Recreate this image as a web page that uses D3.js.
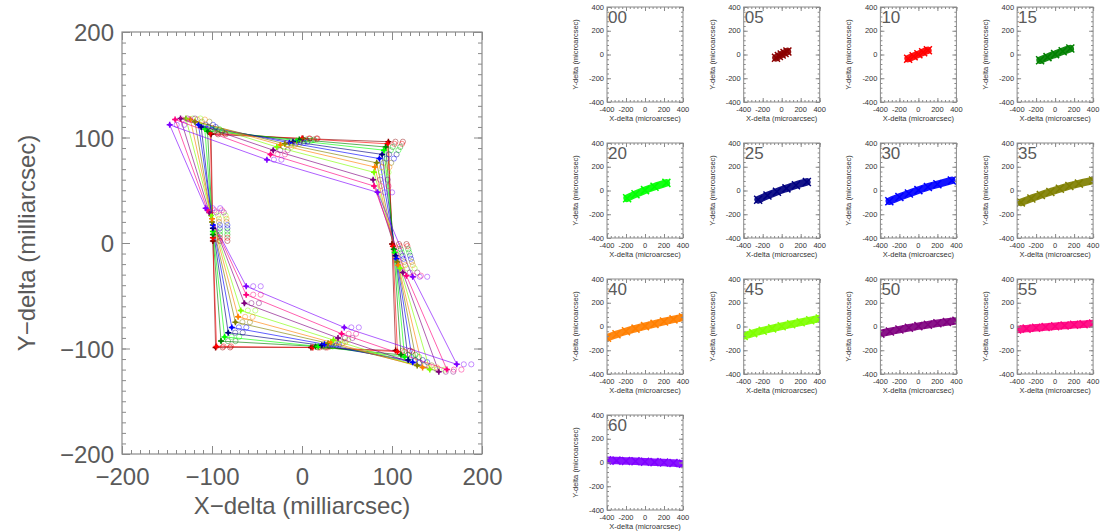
<!DOCTYPE html>
<html><head><meta charset="utf-8">
<script src="https://cdn.jsdelivr.net/npm/d3@7"></script>
<style>body{margin:0;background:#fff}svg{display:block}</style>
</head><body>
<svg id="c" width="1101" height="531"></svg>
<script>
// ---------- data ----------
const seriesNames  = ["05","10","15","20","25","30","35","40","45","50","55","60"];
const seriesColors = ["#8b0000","#ff0000","#008000","#00ff00","#00007f","#0000ff","#7f7f00","#ff7f00","#7fff00","#7f007f","#ff007f","#7f00ff"];

// main plot: field points (milliarcsec) per series, 8 grid positions
const posTL = [[-101,103],[-102,104],[-105,106],[-108,108],[-112,110],[-115,112],[-119,115],[-124,117],[-129,118],[-135,118],[-141,117],[-147,112]];
const posTM = [[1,99],[0,99],[-3,98],[-6,97],[-10,96],[-14,95],[-19,94],[-24,93],[-28,91],[-32,88],[-35,84],[-39,79]];
const posTR = [[96,96],[95,94],[93,91],[91,88],[89,84],[86,80],[83,76],[81,72],[80,67],[79,60],[80,54],[84,48]];
const posRM = [[100,-1],[101,-3],[102,-6],[103,-9],[104,-12],[105,-15],[106,-18],[107,-21],[109,-24],[112,-28],[116,-31],[123,-32]];
const posBR = [[104,-102],[106,-103],[110,-106],[114,-108],[118,-111],[123,-113],[128,-116],[134,-118],[142,-120],[152,-122],[161,-120],[172,-115]];
const posBM = [[10,-99],[12,-99],[15,-98],[18,-98],[22,-97],[25,-96],[29,-95],[32,-94],[35,-92],[40,-90],[44,-86],[47,-80]];
const posBL = [[-96,-99],[-95,-98],[-90,-93],[-86,-89],[-82,-85],[-78,-80],[-74,-75],[-71,-70],[-68,-64],[-64,-57],[-62,-49],[-62,-41]];
const posLM = [[-99,2],[-99,5],[-99,8],[-99,11],[-99,14],[-99,17],[-100,20],[-100,23],[-101,26],[-103,29],[-105,31],[-107,33]];

const mainTicks = [-200,-100,0,100,200];

// small panels: displacement tracks (microarcsec)
const panelNames = ["00","05","10","15","20","25","30","35","40","45","50","55","60"];
const track00 = [];
const track05 = [[-60,-28],[-30,-13],[0,0],[30,13],[60,26]];
const track10 = [[-108,-35],[-50,-15],[0,2],[50,19],[100,35]];
const track15 = [[-158,-48],[-80,-22],[0,3],[80,28],[160,50]];
const track20 = [[-188,-65],[-100,-31],[0,3],[100,32],[225,64]];
const track25 = [[-248,-78],[-150,-42],[-50,-10],[50,18],[150,45],[265,72]];
const track30 = [[-306,-90],[-200,-55],[-100,-25],[0,3],[100,30],[200,52],[352,85]];
const track35 = [[-360,-100],[-250,-67],[-150,-38],[-50,-12],[50,14],[150,38],[250,58],[400,85]];
const track40 = [[-400,-95],[-300,-66],[-200,-40],[-100,-18],[0,3],[100,22],[200,42],[300,60],[400,77]];
const track45 = [[-400,-80],[-300,-56],[-200,-35],[-100,-16],[0,2],[100,19],[200,36],[300,52],[400,68]];
const track50 = [[-400,-60],[-300,-42],[-200,-26],[-100,-11],[0,3],[100,15],[200,27],[300,38],[400,48]];
const track55 = [[-400,-25],[-300,-18],[-200,-11],[-100,-5],[0,2],[100,8],[200,14],[300,19],[400,25]];
const track60 = [[-400,18],[-300,16],[-200,13],[-100,10],[0,6],[100,3],[200,0],[300,-5],[400,-10]];
const tracks = [track00,track05,track10,track15,track20,track25,track30,track35,track40,track45,track50,track55,track60];
const panelColors = ["#000000"].concat(seriesColors);
const smallTicks = [-400,-200,0,200,400];

// ---------- drawing ----------
const svg = d3.select("#c");
const gray = "#5a5a5a";
const frameCol = "#8a8a8a";
const FONT = "Liberation Sans, Arial, sans-serif";

// main plot
const mx = d3.scaleLinear().domain([-200,200]).range([122,482]);
const my = d3.scaleLinear().domain([-200,200]).range([454,32]);
const main = svg.append("g");

main.append("rect").attr("x",122).attr("y",32).attr("width",360).attr("height",422)
  .attr("fill","none").attr("stroke",frameCol).attr("stroke-width",1.2);

function addAxis(axisFn, scale, transform, vals, size, labels, pad){
  const a = axisFn(scale).tickValues(vals).tickSizeInner(-size).tickSizeOuter(0)
      .tickPadding(pad||0).tickFormat(labels ? (d=>String(d).replace("-","\u2212")) : "");
  const g = main.append("g").attr("transform",transform).call(a);
  g.select(".domain").remove();
  g.selectAll("line").attr("stroke",frameCol).attr("stroke-width",1);
  return g;
}
const minorVals = d3.range(-200,201,10);
addAxis(d3.axisBottom,mx,"translate(0,454)",minorVals,4,false);
addAxis(d3.axisTop,mx,"translate(0,32)",minorVals,4,false);
addAxis(d3.axisLeft,my,"translate(122,0)",minorVals,4,false);
addAxis(d3.axisRight,my,"translate(482,0)",minorVals,4,false);
addAxis(d3.axisTop,mx,"translate(0,32)",mainTicks,8,false);
addAxis(d3.axisRight,my,"translate(482,0)",mainTicks,8,false);
const xb = addAxis(d3.axisBottom,mx,"translate(0,454)",mainTicks,8,true,14);
const yl = addAxis(d3.axisLeft,my,"translate(122,0)",mainTicks,8,true,8);
[xb,yl].forEach(g=>g.selectAll("text").attr("fill",gray)
  .style("font-family",FONT).style("font-size","24px"));
yl.selectAll("text").attr("dy","0.36em");

main.append("text").attr("x",302).attr("y",514).attr("text-anchor","middle")
  .attr("fill",gray).style("font-family",FONT).style("font-size","24px")
  .text("X\u2212delta (milliarcsec)");
main.append("text").attr("transform","translate(35,243) rotate(-90)").attr("text-anchor","middle")
  .attr("fill",gray).style("font-family",FONT).style("font-size","24px")
  .text("Y\u2212delta (milliarcsec)");

const positions = [posTL,posTM,posTR,posRM,posBR,posBM,posBL,posLM];
const plot = main.append("g");
const line = d3.line().x(d=>mx(d[0])).y(d=>my(d[1]));
seriesNames.forEach((s,i)=>{
  const pts = positions.map(p=>p[i]);
  plot.append("path").attr("d",line(pts.concat([pts[0]])))
    .attr("fill","none").attr("stroke",seriesColors[i]).attr("stroke-width",0.9).attr("opacity",0.7);
});
seriesNames.forEach((s,i)=>{
  const pts = positions.map(p=>p[i]);
  const c = seriesColors[i];
  pts.forEach(p=>{
    const X = mx(p[0]), Y = my(p[1]);
    plot.append("circle").attr("cx",X+7).attr("cy",Y).attr("r",2.6)
      .attr("fill","none").attr("stroke",c).attr("stroke-width",0.8).attr("opacity",0.55);
    plot.append("circle").attr("cx",X+14.5).attr("cy",Y).attr("r",2.6)
      .attr("fill","none").attr("stroke",c).attr("stroke-width",0.8).attr("opacity",0.55);
    plot.append("path").attr("d",`M${X-3},${Y}H${X+3}M${X},${Y-3}V${Y+3}`)
      .attr("stroke",c).attr("stroke-width",1.5);
    plot.append("circle").attr("cx",X).attr("cy",Y).attr("r",1.8).attr("fill",c);
  });
});

// small panels
const pw = 76, ph = 95;
panelNames.forEach((name,k)=>{
  const col = k % 4, row = Math.floor(k/4);
  const x0 = 607 + 136.7*col, y0 = 7 + 136*row;
  const sx = d3.scaleLinear().domain([-400,400]).range([x0,x0+pw]);
  const sy = d3.scaleLinear().domain([-400,400]).range([y0+ph,y0]);
  const g = svg.append("g");
  const clipId = "clip"+k;
  g.append("clipPath").attr("id",clipId).append("rect").attr("x",x0).attr("y",y0).attr("width",pw).attr("height",ph);
  const tr = tracks[k];
  if (tr.length){
    const ln = d3.line().x(d=>sx(d[0])).y(d=>sy(d[1])).curve(d3.curveMonotoneX);
    const dg = g.append("g").attr("clip-path",`url(#${clipId})`);
    dg.append("path").attr("d",ln(tr)).attr("fill","none").attr("stroke",panelColors[k])
      .attr("stroke-width",7.5).attr("stroke-linecap","round").attr("opacity",0.92);
    dg.selectAll("path.m").data(tr).join("path").attr("class","m")
      .attr("d",d=>{const X=sx(d[0]),Y=sy(d[1]);return `M${X-4},${Y-4}L${X+4},${Y+4}M${X-4},${Y+4}L${X+4},${Y-4}`;})
      .attr("stroke",panelColors[k]).attr("stroke-width",1.5);
  }
  g.append("rect").attr("x",x0).attr("y",y0).attr("width",pw).attr("height",ph)
    .attr("fill","none").attr("stroke",frameCol).attr("stroke-width",1);
  const minor = d3.range(-400,401,40);
  const tk = (fn, sc, t, vals, size)=>{
    const a = fn(sc).tickValues(vals).tickSizeInner(-size).tickSizeOuter(0).tickFormat("");
    const gg = g.append("g").attr("transform",t).call(a);
    gg.select(".domain").remove();
    gg.selectAll("line").attr("stroke",frameCol);
  };
  tk(d3.axisBottom,sx,`translate(0,${y0+ph})`,minor,2);
  tk(d3.axisTop,sx,`translate(0,${y0})`,minor,2);
  tk(d3.axisLeft,sy,`translate(${x0},0)`,minor,2);
  tk(d3.axisRight,sy,`translate(${x0+pw},0)`,minor,2);
  tk(d3.axisBottom,sx,`translate(0,${y0+ph})`,smallTicks,4);
  tk(d3.axisTop,sx,`translate(0,${y0})`,smallTicks,4);
  tk(d3.axisLeft,sy,`translate(${x0},0)`,smallTicks,4);
  tk(d3.axisRight,sy,`translate(${x0+pw},0)`,smallTicks,4);
  smallTicks.forEach(v=>{
    g.append("text").attr("x",x0-3).attr("y",sy(v)).attr("dy","0.35em").attr("text-anchor","end")
      .attr("fill","#333").style("font-family",FONT).style("font-size","7.5px").text(v);
    g.append("text").attr("x",sx(v)).attr("y",y0+ph+10).attr("text-anchor","middle")
      .attr("fill","#333").style("font-family",FONT).style("font-size","7.5px").text(v);
  });
  g.append("text").attr("x",x0+pw/2).attr("y",y0+ph+18.5).attr("text-anchor","middle")
    .attr("fill","#333").style("font-family",FONT).style("font-size","7.5px")
    .text("X-delta (microarcsec)");
  g.append("text").attr("transform",`translate(${x0-29},${y0+ph/2}) rotate(-90)`).attr("text-anchor","middle")
    .attr("fill","#333").style("font-family",FONT).style("font-size","7.5px")
    .text("Y-delta (microarcsec)");
  g.append("text").attr("x",x0+1).attr("y",y0+16).attr("fill",gray)
    .style("font-family",FONT).style("font-size","17px").text(name);
});
</script>
</body></html>
